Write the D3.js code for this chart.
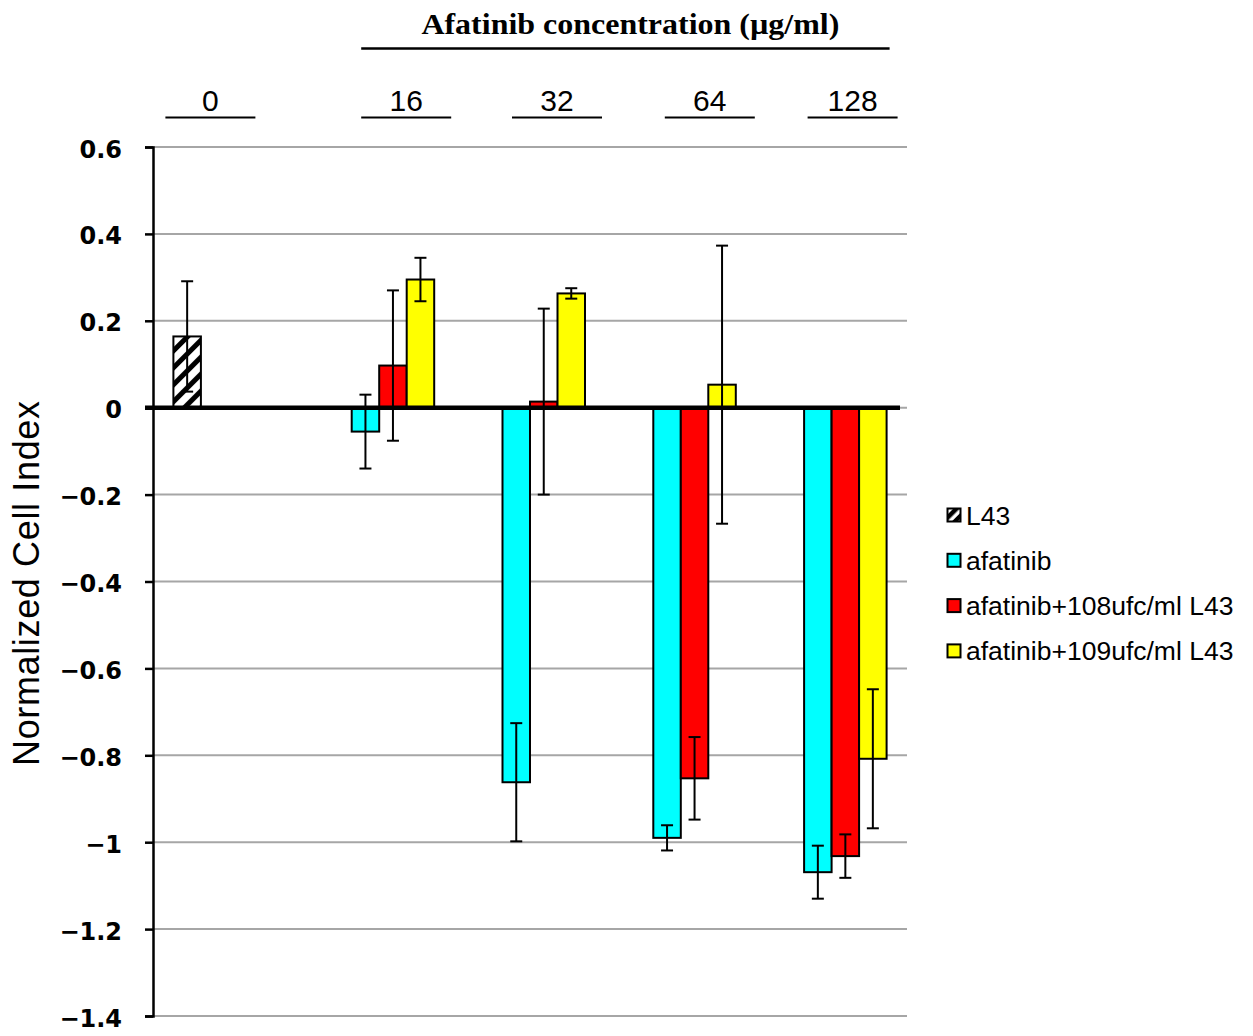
<!DOCTYPE html>
<html>
<head>
<meta charset="utf-8">
<script src="https://cdn.jsdelivr.net/npm/d3@7"></script>
<style>
  body { margin: 0; background: #fff; }
  svg { display: block; }
</style>
</head>
<body>
<svg id="chart" width="1253" height="1036"></svg>
<script>
// --- data
const categories = ['0', '16', '32', '64', '128']
const series = ['L43', 'afatinib', 'afatinib+108ufc/ml L43', 'afatinib+109ufc/ml L43']
const seriesColors = ['url(#hatch)', '#00ffff', '#ff0000', '#ffff00']
// one row per series, one value per category (null = no bar)
const values = [
  [0.164, null, null, null, null],
  [null, -0.055, -0.862, -0.99, -1.069],
  [null, 0.097, 0.014, -0.853, -1.032],
  [null, 0.295, 0.263, 0.053, -0.808]
]
const errors = [
  [0.127, null, null, null, null],
  [null, 0.085, 0.136, 0.029, 0.061],
  [null, 0.173, 0.214, 0.095, 0.05],
  [null, 0.05, 0.012, 0.32, 0.16]
]
const yTicks = [0.6, 0.4, 0.2, 0, -0.2, -0.4, -0.6, -0.8, -1, -1.2, -1.4]
const headerTitle = 'Afatinib concentration (µg/ml)'
// header labels are placed a bit off the category centres, as in the original
const labelShift = [-18, 27, 27, 29, 21]

const svg = d3.select('#chart')
const margin = {left: 153, right: 346, top: 147, bottom: 20}
const width = 1253 - margin.left - margin.right
const height = 1036 - margin.top - margin.bottom

// hatch used for the L43 bar
const defs = svg.append('defs')
const pat = defs.append('pattern')
  .attr('id', 'hatch')
  .attr('patternUnits', 'userSpaceOnUse')
  .attr('width', 12)
  .attr('height', 12)
  .attr('patternTransform', 'rotate(45)')
pat.append('rect').attr('width', 12).attr('height', 12).attr('fill', '#fff')
pat.append('rect').attr('x', 0).attr('width', 5).attr('height', 12).attr('fill', '#000')

// small hatch for the legend key
const ps = defs.append('pattern')
  .attr('id', 'hatchSmall')
  .attr('patternUnits', 'userSpaceOnUse')
  .attr('width', 8).attr('height', 8)
  .attr('patternTransform', 'rotate(45)')
ps.append('rect').attr('width', 8).attr('height', 8).attr('fill', '#fff')
ps.append('rect').attr('width', 4.5).attr('height', 8).attr('fill', '#000')

const x = d3.scaleBand().domain(categories).range([0, width]).paddingInner(0).paddingOuter(0)
const xs = d3.scaleBand().domain(d3.range(series.length))
  .range([0, x.bandwidth() * 110 / 150.8])
const groupOffset = (x.bandwidth() - xs.range()[1]) / 2
const y = d3.scaleLinear().domain([-1.4, 0.6]).range([height, 0])

const g = svg.append('g').attr('transform', `translate(${margin.left},${margin.top})`)

// gridlines
g.append('g')
  .selectAll('line')
  .data(yTicks)
  .join('line')
  .attr('x1', 0)
  .attr('x2', width)
  .attr('y1', (d) => y(d))
  .attr('y2', (d) => y(d))
  .attr('stroke', '#a6a6a6')
  .attr('stroke-width', 2)

// y axis
const yAxis = g.append('g')
  .call(d3.axisLeft(y).tickValues(yTicks).tickSize(8).tickPadding(23)
    .tickFormat((d) => (d < 0 ? '\u2212' : '') + Math.abs(d)))
yAxis.select('.domain').attr('stroke', '#000').attr('stroke-width', 2.5)
yAxis.selectAll('.tick line').attr('stroke', '#000').attr('stroke-width', 2.5)
yAxis.selectAll('.tick text')
  .attr('font-family', 'DejaVu Sans, Verdana, sans-serif')
  .attr('font-weight', 'bold')
  .attr('font-size', 24)
  .attr('fill', '#000')
  .attr('dy', '0.42em')

// bars
const flat = []
series.forEach((s, i) => {
  categories.forEach((c, j) => {
    if (values[i][j] !== null) flat.push({s: i, c, v: values[i][j], e: errors[i][j]})
  })
})
const barX = (d) => x(d.c) + groupOffset + xs(d.s)

g.append('g')
  .selectAll('rect')
  .data(flat)
  .join('rect')
  .attr('x', barX)
  .attr('width', xs.bandwidth())
  .attr('y', (d) => y(Math.max(0, d.v)))
  .attr('height', (d) => Math.abs(y(d.v) - y(0)))
  .attr('fill', (d) => seriesColors[d.s])
  .attr('stroke', '#000')
  .attr('stroke-width', 2)

// error bars
const eb = g.append('g').attr('stroke', '#000').attr('stroke-width', 2)
flat.forEach((d) => {
  const cx = barX(d) + xs.bandwidth() / 2
  eb.append('line').attr('x1', cx).attr('x2', cx)
    .attr('y1', y(d.v + d.e)).attr('y2', y(d.v - d.e))
  ;[d.v + d.e, d.v - d.e].forEach((v) => {
    eb.append('line').attr('x1', cx - 6).attr('x2', cx + 6)
      .attr('y1', y(v)).attr('y2', y(v))
  })
})

// zero line
g.append('line')
  .attr('x1', -8)
  .attr('x2', width - 7)
  .attr('y1', y(0))
  .attr('y2', y(0))
  .attr('stroke', '#000')
  .attr('stroke-width', 4.5)

// y title
svg.append('text')
  .attr('transform', `translate(39,${margin.top + height / 2 + 2}) rotate(-90)`)
  .attr('text-anchor', 'middle')
  .attr('font-family', 'Liberation Sans, Arial, sans-serif')
  .attr('font-size', 36)
  .attr('textLength', 365)
  .text('Normalized Cell Index')

// header labels with underlines
categories.forEach((c, j) => {
  const cx = margin.left + x(c) + x.bandwidth() / 2 + labelShift[j]
  svg.append('text')
    .attr('x', cx)
    .attr('y', 111)
    .attr('text-anchor', 'middle')
    .attr('font-family', 'Liberation Sans, Arial, sans-serif')
    .attr('font-size', 30)
    .text(c)
  svg.append('line')
    .attr('x1', cx - 45)
    .attr('x2', cx + 45)
    .attr('y1', 117.5)
    .attr('y2', 117.5)
    .attr('stroke', '#000')
    .attr('stroke-width', 2)
})

const hx1 = margin.left + x('16') + x.bandwidth() / 2 + labelShift[1] - 45
const hx2 = margin.left + x('128') + x.bandwidth() / 2 + labelShift[4] + 37
svg.append('line')
  .attr('x1', hx1).attr('x2', hx2)
  .attr('y1', 48.5).attr('y2', 48.5)
  .attr('stroke', '#000').attr('stroke-width', 2.5)
svg.append('text')
  .attr('x', (hx1 + hx2) / 2 + 5)
  .attr('y', 34)
  .attr('text-anchor', 'middle')
  .attr('font-family', 'Liberation Serif, Times New Roman, serif')
  .attr('font-weight', 'bold')
  .attr('font-size', 29)
  .attr('textLength', 418)
  .attr('lengthAdjust', 'spacingAndGlyphs')
  .text(headerTitle)

// legend
const legend = svg.append('g').attr('transform', 'translate(947,515)')
series.forEach((s, i) => {
  const row = legend.append('g').attr('transform', `translate(0,${i * 45.3})`)
  row.append('rect')
    .attr('x', 0.5).attr('y', -6.5)
    .attr('width', 13).attr('height', 13)
    .attr('fill', i === 0 ? 'url(#hatchSmall)' : seriesColors[i])
    .attr('stroke', '#000').attr('stroke-width', 2)
  row.append('text')
    .attr('x', 19)
    .attr('y', 9.5)
    .attr('font-family', 'Liberation Sans, Arial, sans-serif')
    .attr('font-size', 26.5)
    .text(s)
})
</script>
</body>
</html>
